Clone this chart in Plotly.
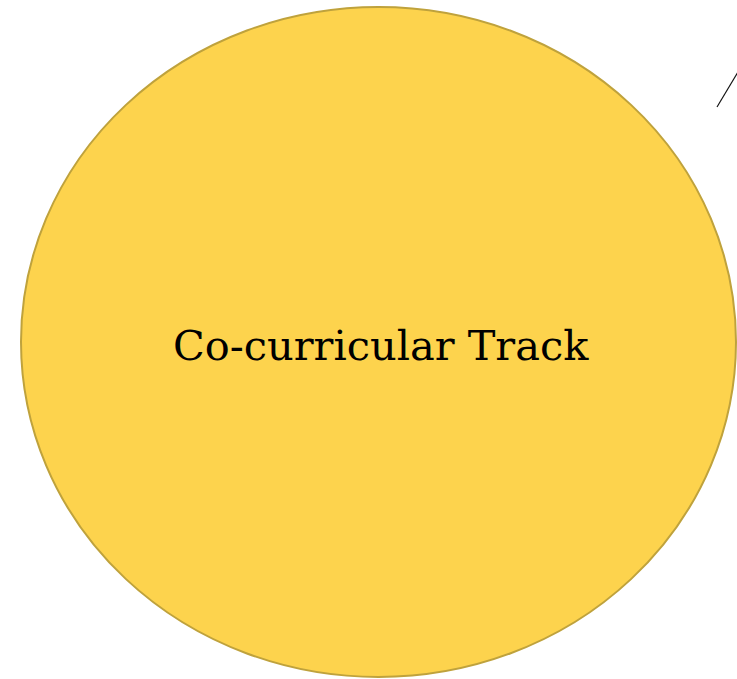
import plotly.graph_objects as go

# Data (in page-pixel units, y measured downward from top)
ellipse_x = [21, 736]
ellipse_y = [7, 677]
label = "Co-curricular Track"
label_y = 345
line_x = [717, 738]
line_y = [107, 72]

W, H = 737, 679

fig = go.Figure()
fig.add_trace(go.Scatter(x=line_x, y=line_y, mode="lines",
                         line=dict(color="#111111", width=1.2),
                         hoverinfo="skip", showlegend=False))
fig.add_shape(type="circle", xref="x", yref="y",
              x0=ellipse_x[0], x1=ellipse_x[1], y0=ellipse_y[0], y1=ellipse_y[1],
              fillcolor="#FDD34D", line=dict(color="#BFA23C", width=2), layer="below")
fig.add_annotation(x=(ellipse_x[0] + ellipse_x[1]) / 2 + 2, y=label_y, text=label,
                   showarrow=False, xref="x", yref="y",
                   font=dict(family="DejaVu Serif", size=41.5, color="#000000"))
fig.update_layout(width=W, height=H, margin=dict(l=0, r=0, t=0, b=0),
                  plot_bgcolor="white", paper_bgcolor="white",
                  xaxis=dict(range=[0, W], visible=False, fixedrange=True),
                  yaxis=dict(range=[H, 0], visible=False, fixedrange=True))
fig.write_html("out.html", config={"displayModeBar": False},
               post_script="document.body.style.margin='0';document.body.style.overflow='hidden';")
